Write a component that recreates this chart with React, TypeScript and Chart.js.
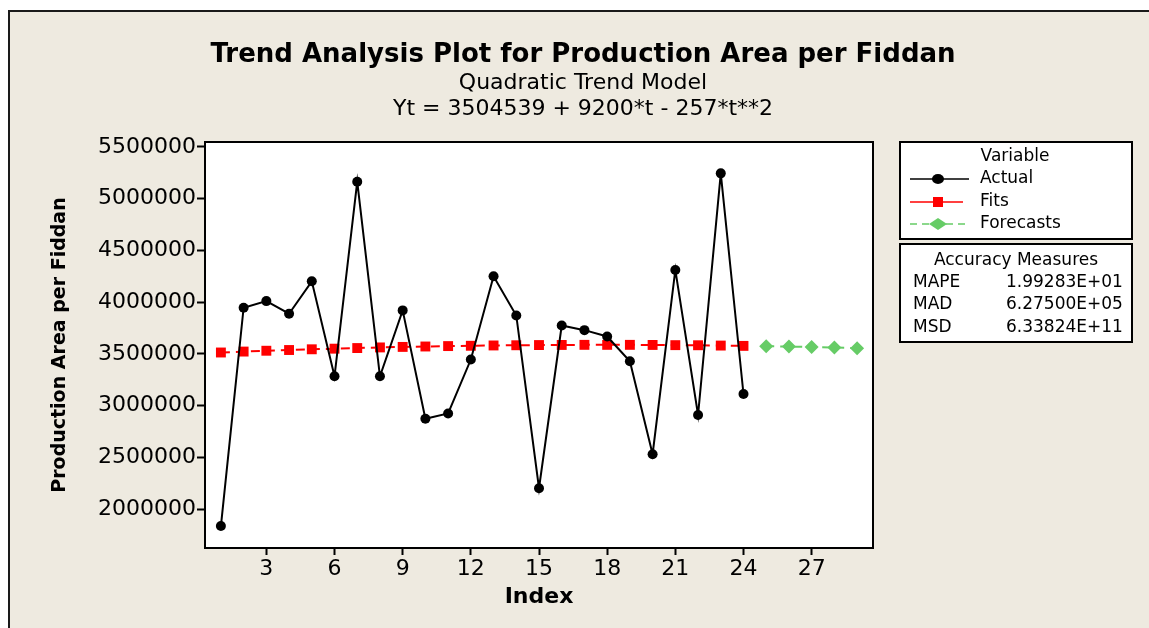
import React, { useEffect, useRef } from 'react';
import { Chart, registerables } from 'chart.js';

Chart.register(...registerables);

// ---------- data ----------
const actualIndex = [1, 2, 3, 4, 5, 6, 7, 8, 9, 10, 11, 12, 13, 14, 15, 16, 17, 18, 19, 20, 21, 22, 23, 24];
const actualValues = [
  1835000, 3946000, 4010000, 3888000, 4201000, 3283000, 5164000, 3283000, 3920000, 2873000, 2924000, 3445000,
  4250000, 3871000, 2201000, 3774000, 3729000, 3668000, 3428000, 2530000, 4311000, 2909000, 5245000, 3112000,
];
const fitsValues = [
  3513000, 3522000, 3530000, 3537000, 3544000, 3550000, 3556000, 3562000, 3567000, 3571000, 3575000, 3578000,
  3581000, 3583000, 3585000, 3586000, 3587000, 3587000, 3587000, 3586000, 3584000, 3583000, 3580000, 3577000,
];
const forecastIndex = [25, 26, 27, 28, 29];
const forecastValues = [3574000, 3570000, 3566000, 3561000, 3555000];

const xTickValues = [3, 6, 9, 12, 15, 18, 21, 24, 27];
const yTickValues = [2000000, 2500000, 3000000, 3500000, 4000000, 4500000, 5000000, 5500000];

const titleText = 'Trend Analysis Plot for Production Area per Fiddan';
const subtitleLines = ['Quadratic Trend Model', 'Yt = 3504539 + 9200*t - 257*t**2'];
const xTitle = 'Index';
const yTitle = 'Production Area per Fiddan';
const legendTitle = 'Variable';
const legendLabels = ['Actual', 'Fits', 'Forecasts'];
const accuracyTitle = 'Accuracy Measures';
const accuracyLabels = ['MAPE', 'MAD', 'MSD'];
const accuracyValues = ['1.99283E+01', '6.27500E+05', '6.33824E+11'];

// ---------- styles ----------
const FONT = "'DejaVu Sans', Verdana, sans-serif";
const RED = '#FF0000';
const GREEN = '#66CC66';
const BEIGE = '#EEEAE0';

const framePlugin = {
  id: 'framePlugin',
  beforeDraw(chart: any) {
    const { ctx, width, height, chartArea } = chart;
    ctx.save();
    ctx.fillStyle = '#ffffff';
    ctx.fillRect(0, 0, width, height);
    ctx.fillStyle = BEIGE;
    ctx.fillRect(9, 11, width - 9, height - 11);
    ctx.fillStyle = '#1a1a1a';
    ctx.fillRect(8, 10, width - 8, 2);
    ctx.fillRect(8, 10, 2, height - 10);
    ctx.fillStyle = '#ffffff';
    ctx.fillRect(chartArea.left, chartArea.top, chartArea.right - chartArea.left, chartArea.bottom - chartArea.top);
    ctx.restore();
  },
  afterDraw(chart: any) {
    const { ctx, chartArea } = chart;
    ctx.save();
    // plot frame
    ctx.strokeStyle = '#000';
    ctx.lineWidth = 2;
    ctx.strokeRect(chartArea.left, chartArea.top, chartArea.right - chartArea.left, chartArea.bottom - chartArea.top);

    // legend box
    const bx = 900, bw = 232;
    ctx.fillStyle = '#fff';
    ctx.fillRect(bx, 142, bw, 97);
    ctx.strokeRect(bx, 142, bw, 97);
    ctx.fillStyle = '#000';
    ctx.font = `17px ${FONT}`;
    ctx.textBaseline = 'middle';
    ctx.textAlign = 'center';
    ctx.fillText(legendTitle, 1015, 157);
    ctx.textAlign = 'left';
    const rows = [179, 202, 224];
    legendLabels.forEach((t, i) => ctx.fillText(t, 980, rows[i]));

    // Actual sample
    ctx.strokeStyle = '#000';
    ctx.lineWidth = 1.5;
    ctx.beginPath();
    ctx.moveTo(910, rows[0]);
    ctx.lineTo(969, rows[0]);
    ctx.stroke();
    ctx.beginPath();
    ctx.ellipse(938, rows[0], 6, 5, 0, 0, Math.PI * 2);
    ctx.fill();
    // Fits sample
    ctx.strokeStyle = RED;
    ctx.beginPath();
    ctx.moveTo(910, rows[1]);
    ctx.lineTo(963, rows[1]);
    ctx.stroke();
    ctx.fillStyle = RED;
    ctx.fillRect(933, rows[1] - 5, 10, 10);
    // Forecasts sample
    ctx.strokeStyle = GREEN;
    ctx.setLineDash([7, 5]);
    ctx.beginPath();
    ctx.moveTo(910, rows[2]);
    ctx.lineTo(969, rows[2]);
    ctx.stroke();
    ctx.setLineDash([]);
    ctx.fillStyle = GREEN;
    ctx.beginPath();
    ctx.moveTo(929, rows[2]);
    ctx.lineTo(938, rows[2] - 6);
    ctx.lineTo(947, rows[2]);
    ctx.lineTo(938, rows[2] + 6);
    ctx.closePath();
    ctx.fill();

    // accuracy box
    ctx.fillStyle = '#fff';
    ctx.strokeStyle = '#000';
    ctx.lineWidth = 2;
    ctx.fillRect(bx, 244, bw, 98);
    ctx.strokeRect(bx, 244, bw, 98);
    ctx.fillStyle = '#000';
    ctx.textAlign = 'center';
    ctx.fillText(accuracyTitle, 1016, 261);
    ctx.textAlign = 'left';
    const arows = [283, 305, 328];
    accuracyLabels.forEach((t, i) => {
      ctx.fillText(t, 913, arows[i]);
      ctx.fillText(accuracyValues[i], 1006, arows[i]);
    });
    ctx.restore();
  },
};

export default function App() {
  const canvasRef = useRef<HTMLCanvasElement | null>(null);

  useEffect(() => {
    const canvas = canvasRef.current;
    if (!canvas) return;
    const tickFont = { family: FONT, size: 22 };
    const chart = new Chart(canvas, {
      type: 'line',
      data: {
        datasets: [
          {
            label: legendLabels[0],
            data: actualIndex.map((x, i) => ({ x, y: actualValues[i] })),
            borderColor: '#000',
            backgroundColor: '#000',
            borderWidth: 2,
            pointRadius: 5,
            pointBorderWidth: 0,
            pointBackgroundColor: '#000',
            tension: 0,
          },
          {
            label: legendLabels[1],
            data: actualIndex.map((x, i) => ({ x, y: fitsValues[i] })),
            borderColor: RED,
            backgroundColor: RED,
            borderWidth: 2,
            borderDash: [9, 6],
            pointStyle: 'rect',
            pointRadius: 7,
            pointBorderWidth: 0,
            pointBackgroundColor: RED,
            tension: 0,
          },
          {
            label: legendLabels[2],
            data: forecastIndex.map((x, i) => ({ x, y: forecastValues[i] })),
            borderColor: GREEN,
            backgroundColor: GREEN,
            borderWidth: 2,
            borderDash: [8, 6],
            pointStyle: 'rectRot',
            pointRadius: 7,
            pointBorderWidth: 0,
            pointBackgroundColor: GREEN,
            tension: 0,
          },
        ],
      },
      options: {
        responsive: false,
        animation: false,
        devicePixelRatio: 1,
        layout: { padding: { top: 0, bottom: 0, left: 25, right: 8 } },
        plugins: {
          legend: { display: false },
          tooltip: { enabled: false },
          title: {
            display: true,
            text: titleText,
            color: '#000',
            font: { family: FONT, size: 26, weight: 'bold', lineHeight: 1 },
            padding: { top: 42, bottom: 0 },
          },
          subtitle: {
            display: true,
            text: subtitleLines,
            color: '#000',
            font: { family: FONT, size: 22, lineHeight: 1.2 },
            padding: { top: 2, bottom: 19.2 },
          },
        },
        scales: {
          x: {
            type: 'linear',
            min: 0.3,
            max: 29.7,
            afterBuildTicks: (s: any) => {
              s.ticks = xTickValues.map((v) => ({ value: v }));
            },
            afterFit: (s: any) => {
              s.height = 80;
            },
            ticks: {
              color: '#000',
              font: tickFont,
              padding: 1,
              maxRotation: 0,
              autoSkip: false,
              callback: (v: any) => String(v),
            },
            grid: { drawOnChartArea: false, drawTicks: true, tickLength: 7, tickWidth: 2, tickColor: '#000' },
            border: { display: false },
            title: {
              display: true,
              text: xTitle,
              color: '#000',
              font: { family: FONT, size: 22, weight: 'bold', lineHeight: 1.2 },
              padding: { top: 0, bottom: 17.8 },
            },
          },
          y: {
            type: 'linear',
            position: 'left',
            min: 1623000,
            max: 5548000,
            afterBuildTicks: (s: any) => {
              s.ticks = yTickValues.map((v) => ({ value: v }));
            },
            afterFit: (s: any) => {
              s.width = 180;
            },
            ticks: {
              color: '#000',
              font: tickFont,
              padding: 1,
              autoSkip: false,
              callback: (v: any) => String(v),
            },
            grid: { drawOnChartArea: false, drawTicks: true, tickLength: 8, tickWidth: 2, tickColor: '#000' },
            border: { display: false },
            title: {
              display: true,
              text: yTitle,
              color: '#000',
              font: { family: FONT, size: 19, weight: 'bold', lineHeight: 1.2 },
              padding: { top: 23.6, bottom: 0 },
            },
          },
          yRightSpace: {
            type: 'linear',
            position: 'right',
            display: true,
            grid: { display: false },
            border: { display: false },
            ticks: { display: false },
            afterFit: (s: any) => {
              s.width = 268;
            },
          },
        },
      },
      plugins: [framePlugin],
    } as any);
    return () => chart.destroy();
  }, []);

  return (
    <div style={{ position: 'fixed', left: 0, top: 0, width: 1149, height: 628, overflow: 'hidden' }}>
      <canvas ref={canvasRef} width={1149} height={628} style={{ display: 'block' }} />
    </div>
  );
}
